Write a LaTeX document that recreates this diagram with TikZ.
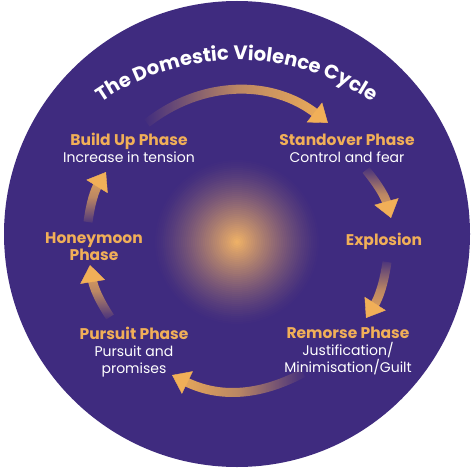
\documentclass[tikz,border=0pt]{standalone}
\usepackage{fontspec}
\setmainfont{Poppins}
\usetikzlibrary{arrows.meta,decorations.text,decorations.markings,fadings}
\definecolor{circlecol}{HTML}{3F2B7F}
\definecolor{phaseorange}{HTML}{F1AF58}
\definecolor{glowcol}{HTML}{F3B466}
\tikzfading[name=fadetail, left color=transparent!100, right color=transparent!0, middle color=transparent!30]
\tikzset{
	phase/.style={align=center, anchor=north, inner sep=0pt, text=white, font=\fontsize{14}{17}\selectfont},
	shaft/.style={phaseorange, line width=9pt, path fading=fadetail}
}
\newcommand{\phasehead}[1]{{\fontsize{15.5}{17}\selectfont\bfseries\color{phaseorange}#1}}
\newcommand{\cycletitlefont}{\fontsize{19.5}{19.5}\selectfont\bfseries}
\newcommand{\cyclearrow}[4]% from, to, bend, fading angle
{\draw[shaft, fading angle=#4, shorten >=15pt] (#1) to[bend left=#3] (#2);
 \path[decorate, decoration={markings, mark=at position 0.999 with {\arrow[phaseorange]{Triangle[width=25pt,length=17pt]}}}] (#1) to[bend left=#3] (#2);
}

\begin{document}
\begin{tikzpicture}[x=1pt, y=1pt]
		\useasboundingbox (0,0) rectangle (474,467);
		\fill[white] (0,0) rectangle (474,467);
		\coordinate (centre) at (237,233);
		\coordinate (glow) at (237,225);
		\coordinate (titlec) at (237,169);
		\fill[circlecol] (centre) circle (233);
		%glow in the middle
		\foreach \r in {84,82,...,2}{
			\pgfmathsetmacro{\f}{100*(1-\r/84)^1.3}
			\fill[glowcol!\f!circlecol] (glow) circle (\r);
		}
		%title along the arc
		\path[decorate, decoration={text along path, text align=center, text color=white,
			text={|\cycletitlefont|The Domestic Violence Cycle}}]
			(titlec) ++(150:238) arc[start angle=150, end angle=30, radius=238];

		\node[phase] (buildup) at (129,334) {\phasehead{Build Up Phase}\\Increase in tension};
		\node[phase] (standover) at (347,333) {\phasehead{Standover Phase}\\Control and fear};
		\node[phase] (explosion) at (384,234) {\phasehead{Explosion}};
		\node[phase] (remorse) at (348,140) {\phasehead{Remorse Phase}\\Justification/\\Minimisation/Guilt};
		\node[phase] (pursuit) at (134,140) {\phasehead{Pursuit Phase}\\Pursuit and\\promises};
		\node[phase] (honeymoon) at (94,235) {\phasehead{Honeymoon}\\\phasehead{Phase}};

		\coordinate (upA) at (147,344);   \coordinate (upB) at (328,344);
		\coordinate (rightA) at (366,297); \coordinate (rightB) at (391,249);
		\coordinate (rightC) at (387,205); \coordinate (rightD) at (366,149);
		\coordinate (lowA) at (303,94);   \coordinate (lowB) at (172,92);
		\coordinate (leftA) at (110,150); \coordinate (leftB) at (90,202);
		\coordinate (leftC) at (88,245);  \coordinate (leftD) at (106,295);
		\cyclearrow{upA}{upB}{38}{0}
		\cyclearrow{rightA}{rightB}{12}{-90}
		\cyclearrow{rightC}{rightD}{12}{-90}
		\cyclearrow{lowA}{lowB}{27}{180}
		\cyclearrow{leftA}{leftB}{12}{90}
		\cyclearrow{leftC}{leftD}{12}{90}
	\end{tikzpicture}
\end{document}
